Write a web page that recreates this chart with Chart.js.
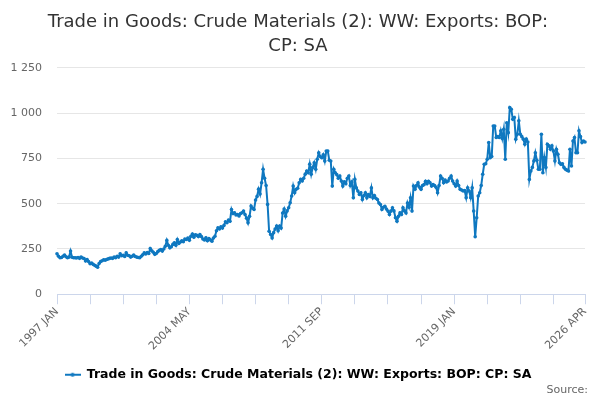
<!DOCTYPE html>
<html>
<head>
<meta charset="utf-8">
<script src="https://cdn.jsdelivr.net/npm/chart.js@4.4.1/dist/chart.umd.min.js"></script>
<style>
html,body{margin:0;padding:0;background:#ffffff;}
#wrap{width:600px;height:400px;position:relative;}
</style>
</head>
<body>
<div id="wrap"><canvas id="chart" width="600" height="400"></canvas></div>
<script>
const titleLines = ['Trade in Goods: Crude Materials (2): WW: Exports: BOP:', 'CP: SA'];
const seriesName = 'Trade in Goods: Crude Materials (2): WW: Exports: BOP: CP: SA';
const sourceText = 'Source:';

const monthNames = ['JAN','FEB','MAR','APR','MAY','JUN','JUL','AUG','SEP','OCT','NOV','DEC'];
const years = [1997,1998,1999,2000,2001,2002,2003,2004,2005,2006,2007,2008,2009,2010,2011,2012,2013,2014,2015,2016,2017,2018,2019,2020,2021,2022,2023,2024,2025,2026];
const monthsInLastYear = 4;

const xTickLabels = ['1997 JAN','2004 MAY','2011 SEP','2019 JAN','2026 APR'];
const xTickMarkStep = 22;
const yTickValues = [0,250,500,750,1000,1250];

// monthly values (£ million), one row per year
const values = [
  223,210,201,203,210,216,207,201,205,238,204,201,   // 1997
  201,200,203,198,205,200,197,183,192,180,168,172,   // 1998
  165,160,155,149,170,180,185,190,188,192,195,198,   // 1999
  200,198,205,202,210,205,223,212,215,208,228,215,   // 2000
  212,205,210,216,208,205,203,201,210,218,228,222,   // 2001
  230,225,252,240,232,220,225,235,242,247,238,250,   // 2002
  265,297,270,256,262,275,284,270,302,280,288,295,   // 2003
  290,305,302,310,298,320,332,315,328,325,318,330,   // 2004
  318,305,300,312,295,308,300,293,310,320,350,367,   // 2005
  360,372,365,380,400,395,410,403,468,445,450,438,   // 2006
  440,432,445,450,459,440,420,394,430,487,475,468,   // 2007
  520,540,580,553,615,690,640,600,496,348,330,311,   // 2008
  340,360,376,350,376,365,448,470,431,460,477,505,   // 2009
  542,597,560,579,585,615,634,625,640,663,680,671,   // 2010
  718,662,700,726,690,745,781,760,753,770,735,790,   // 2011
  791,740,735,597,690,671,660,640,652,625,597,620,   // 2012
  610,640,652,600,620,532,634,587,570,551,560,523,   // 2013
  545,560,532,550,540,587,532,545,530,523,504,495,   // 2014
  468,480,486,470,459,440,459,477,460,422,403,430,   // 2015
  449,440,477,460,449,504,480,532,459,597,580,600,   // 2016
  615,590,579,600,605,624,610,624,615,597,605,600,   // 2017
  590,560,600,652,640,615,630,620,625,640,653,625,   // 2018
  610,597,625,600,579,575,570,572,533,588,570,533,   // 2019
  588,459,317,422,542,560,600,662,717,720,745,837,   // 2020
  754,760,929,929,865,870,865,902,860,911,745,947,   // 2021
  892,1030,1021,966,975,856,883,957,883,870,856,828, // 2022
  856,840,634,680,700,736,781,740,690,690,883,671,   // 2023
  754,700,828,819,800,819,790,736,800,773,726,717,   // 2024
  720,700,690,685,680,800,708,846,865,781,781,902,   // 2025
  870,837,845,840                                    // 2026
];

const categories = [];
years.forEach((y, yi) => {
  const n = (yi === years.length - 1) ? monthsInLastYear : 12;
  for (let m = 0; m < n; m++) categories.push(y + ' ' + monthNames[m]);
});

const BLUE = '#0f78c0';
const FONT = "'DejaVu Sans', sans-serif";

// legend marker: short line with a dot
const marker = document.createElement('canvas');
marker.width = 16; marker.height = 8;
(function(){
  const c = marker.getContext('2d');
  c.strokeStyle = BLUE; c.lineWidth = 2;
  c.beginPath(); c.moveTo(0,4); c.lineTo(16,4); c.stroke();
  c.fillStyle = BLUE; c.beginPath(); c.arc(8,4,2,0,Math.PI*2); c.fill();
})();

const sourcePlugin = {
  id: 'sourceText',
  afterDraw(chart) {
    const c = chart.ctx;
    c.save();
    c.font = "11px " + FONT;
    c.fillStyle = '#666666';
    c.textAlign = 'right';
    c.textBaseline = 'middle';
    c.fillText(sourceText, 588, 390);
    c.restore();
  }
};

function fmt(v) {
  const s = String(v);
  return s.length > 3 ? s.slice(0, s.length - 3) + ' ' + s.slice(s.length - 3) : s;
}

new Chart(document.getElementById('chart'), {
  type: 'line',
  data: {
    labels: categories,
    datasets: [{
      label: seriesName,
      data: values,
      borderColor: BLUE,
      backgroundColor: BLUE,
      borderWidth: 2,
      pointRadius: 1.8,
      pointBorderWidth: 0,
      pointBackgroundColor: BLUE,
      pointStyle: 'circle',
      tension: 0,
      fill: false
    }]
  },
  options: {
    responsive: false,
    animation: false,
    layout: { padding: { top: 3, left: 11, right: 15, bottom: 9 } },
    plugins: {
      title: {
        display: true,
        text: titleLines,
        color: '#333333',
        font: { family: FONT, size: 18, weight: 'normal', lineHeight: 1.3 },
        padding: { top: 8, bottom: 10 }
      },
      legend: {
        display: true,
        position: 'bottom',
        labels: {
          color: '#333333',
          font: { family: FONT, size: 12.5, weight: 'bold' },
          usePointStyle: true,
          pointStyleWidth: 16,
          padding: 14.5,
          generateLabels(chart) {
            const ds = chart.data.datasets[0];
            return [{ text: ds.label, pointStyle: marker, fillStyle: BLUE, strokeStyle: BLUE, lineWidth: 0, datasetIndex: 0, hidden: false }];
          }
        }
      },
      tooltip: { enabled: false }
    },
    scales: {
      x: {
        type: 'category',
        offset: false,
        grid: { drawOnChartArea: false, drawTicks: true, tickLength: 10, color: '#ccd6eb', lineWidth: 1 },
        border: { display: true, color: '#ccd6eb', width: 1 },
        ticks: {
          autoSkip: false,
          maxRotation: 45,
          minRotation: 45,
          color: '#666666',
          padding: 1,
          font: { family: FONT, size: 11 },
          callback(value, index) {
            const lab = this.getLabelForValue(value);
            if (xTickLabels.includes(lab)) return lab;
            if (index % xTickMarkStep === 0) return '';
            return null;
          }
        }
      },
      y: {
        min: yTickValues[0],
        max: yTickValues[yTickValues.length - 1],
        afterBuildTicks(scale) { scale.ticks = yTickValues.map(v => ({ value: v })); },
        afterFit(scale) { scale.width = 46; },
        grid: { color: '#e6e6e6', drawTicks: false, lineWidth: 1 },
        border: { display: false },
        ticks: {
          color: '#666666',
          padding: 15,
          font: { family: FONT, size: 11 },
          callback(v) { return fmt(v); }
        }
      }
    }
  },
  plugins: [sourcePlugin]
});
</script>
</body>
</html>
